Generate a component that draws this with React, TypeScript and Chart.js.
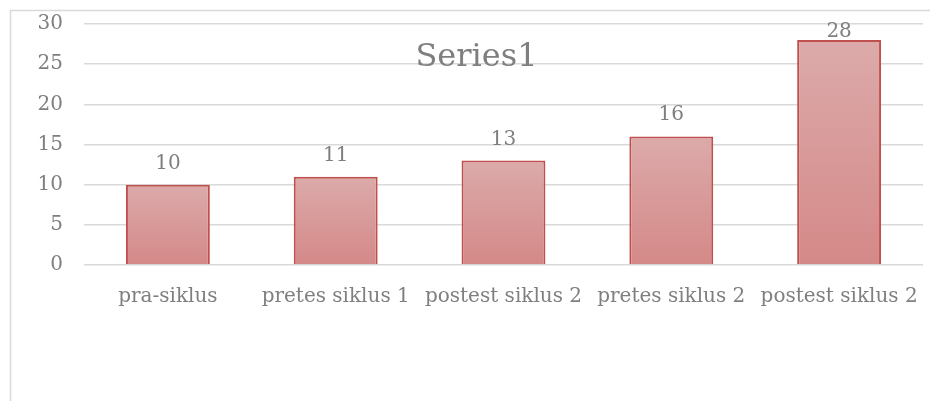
import React, { useEffect, useRef } from "react";
import { Chart, registerables } from "chart.js";

Chart.register(...registerables);

const categories = ["pra-siklus", "pretes siklus 1", "postest siklus 2", "pretes siklus 2", "postest siklus 2"];
const values = [10, 11, 13, 16, 28];
const yTicks = [0, 5, 10, 15, 20, 25, 30];
const chartTitle = "Series1";

const FONT = "'DejaVu Serif', serif";
const TEXT = "#7f7f7f";
const GRID = "#d9d9d9";

export default function App() {
  const ref = useRef<HTMLCanvasElement | null>(null);

  useEffect(() => {
    const canvas = ref.current;
    if (!canvas) return;

    const framePlugin = {
      id: "frame",
      beforeDraw(chart: any) {
        const c = chart.ctx;
        c.save();
        c.strokeStyle = GRID;
        c.lineWidth = 1.5;
        c.beginPath();
        c.moveTo(10.5, chart.height);
        c.lineTo(10.5, 10.5);
        c.lineTo(chart.width, 10.5);
        c.stroke();
        c.restore();
      },
    };

    const labelPlugin = {
      id: "labels",
      afterDatasetsDraw(chart: any) {
        const c = chart.ctx;
        const meta = chart.getDatasetMeta(0);
        c.save();
        c.fillStyle = TEXT;
        c.font = `20px ${FONT}`;
        c.textAlign = "center";
        c.textBaseline = "alphabetic";
        meta.data.forEach((el: any, i: number) => {
          const base = Math.max(el.y - 16, chart.chartArea.top + 13);
          c.fillText(String(values[i]), el.x, base);
        });
        c.restore();
      },
      afterDraw(chart: any) {
        const c = chart.ctx;
        c.save();
        c.fillStyle = TEXT;
        c.font = `32px ${FONT}`;
        c.textAlign = "center";
        c.textBaseline = "alphabetic";
        c.fillText(chartTitle, 476.5, 66);
        c.restore();
      },
    };

    const chart = new Chart(canvas, {
      type: "bar",
      data: {
        labels: categories,
        datasets: [
          {
            label: chartTitle,
            data: values,
            backgroundColor: (ctx: any) => {
              const ch = ctx.chart;
              const y = ch.scales && ch.scales.y;
              if (!y || ctx.dataIndex === undefined) return "#d89a99";
              const top = y.getPixelForValue(values[ctx.dataIndex]);
              const bottom = y.getPixelForValue(0);
              if (!isFinite(top) || !isFinite(bottom) || top === bottom) return "#d89a99";
              const g = ch.ctx.createLinearGradient(0, top, 0, bottom);
              g.addColorStop(0, "#dcaaaa");
              g.addColorStop(1, "#d48988");
              return g;
            },
            borderColor: "#c0504d",
            borderWidth: 2,
            borderSkipped: "bottom",
            barPercentage: 0.5,
            categoryPercentage: 1,
          },
        ],
      },
      options: {
        responsive: false,
        animation: false,
        layout: { padding: { top: 24, right: 7, left: 0, bottom: 0 } },
        plugins: {
          legend: { display: false },
          title: { display: false },
          tooltip: { enabled: false },
        },
        scales: {
          x: {
            grid: { display: false },
            border: { display: false },
            ticks: {
              color: TEXT,
              font: { family: FONT, size: 20 },
              padding: 12,
              maxRotation: 0,
              autoSkip: false,
            },
            afterFit: (s: any) => {
              s.height = 136;
              s.paddingLeft = 0;
              s.paddingRight = 0;
            },
          },
          y: {
            min: 0,
            max: 30,
            afterBuildTicks: (s: any) => {
              s.ticks = yTicks.map((v) => ({ value: v }));
            },
            grid: { color: GRID, lineWidth: 1.5, drawTicks: false },
            border: { display: false },
            ticks: {
              color: TEXT,
              font: { family: FONT, size: 20 },
              padding: 21,
            },
            afterFit: (s: any) => {
              s.width = 84;
              s.paddingTop = 0;
              s.paddingBottom = 0;
            },
          },
        },
      },
      plugins: [framePlugin, labelPlugin],
    });

    return () => chart.destroy();
  }, []);

  return (
    <div style={{ position: "fixed", left: 0, top: 0, width: 930, height: 401, background: "#fff" }}>
      <canvas ref={ref} width={930} height={401} style={{ display: "block", width: 930, height: 401 }} />
    </div>
  );
}
